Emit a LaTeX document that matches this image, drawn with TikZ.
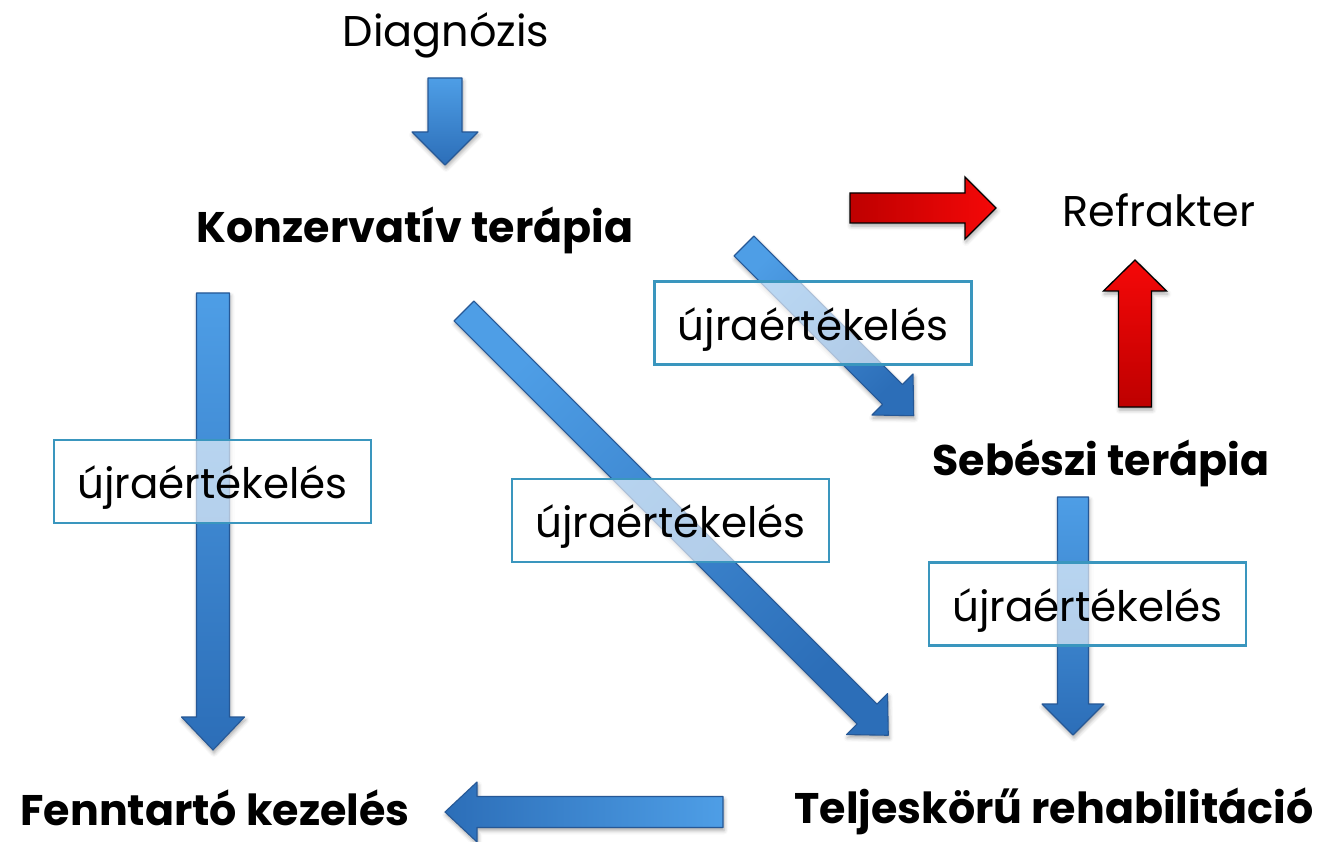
\documentclass[tikz,border=0pt]{standalone}
\usepackage{fontspec}
\setmainfont{Poppins}
\usetikzlibrary{shadows.blur}
\definecolor{arrowlight}{RGB}{78,158,230}
\definecolor{arrowdark}{RGB}{44,110,184}
\definecolor{arrowedge}{RGB}{38,88,150}
\definecolor{redlight}{RGB}{245,8,8}
\definecolor{reddark}{RGB}{190,0,0}
\definecolor{boxedge}{RGB}{58,150,190}
\newcommand\blkarrow[7]{%
  \begin{scope}[shift={(#2)},rotate=#3]
    \path[#1] (0,-#5/2) -- ({#4-#7},-#5/2) -- ({#4-#7},-#6/2) -- (#4,0)
      -- ({#4-#7},#6/2) -- ({#4-#7},#5/2) -- (0,#5/2) -- cycle;
  \end{scope}}
\tikzset{
  bluearrow/.style={draw=arrowedge, line width=1.1pt, line join=round,
    top color=arrowlight, bottom color=arrowdark,
    blur shadow={shadow xshift=1pt, shadow yshift=-3pt, shadow blur radius=4pt, shadow opacity=35}},
  redarrow/.style={draw=black, line width=1.3pt, line join=miter,
    top color=redlight, bottom color=reddark,
    blur shadow={shadow xshift=1pt, shadow yshift=-3pt, shadow blur radius=4pt, shadow opacity=35}},
  evalbox/.style={draw=boxedge, line width=2.5pt, fill=white, fill opacity=0.62,
    text opacity=1, minimum width=317pt, minimum height=83pt, inner sep=0pt,
    text height=34pt, text depth=0pt,
    font=\fontsize{42}{48}\selectfont},
  reglabel/.style={anchor=base, inner sep=0pt, font=\fontsize{43}{49}\selectfont},
  boldlabel/.style={anchor=base, inner sep=0pt, font=\fontsize{42.8}{49}\selectfont\bfseries},
}
\begin{document}
\begin{tikzpicture}[x=1pt,y=-1pt]
\useasboundingbox (0,0) rectangle (1317,842);
% arrow anchor points
\coordinate (a1) at (445,78);
\coordinate (a2) at (213,293);
\coordinate (a3) at (1073,497);
\coordinate (a4) at (723,812);
\coordinate (a5) at (850,208);
\coordinate (a6) at (1135,407);
\coordinate (a7) at (464,311);
\coordinate (a8) at (744,246);
% blue arrows
\blkarrow{bluearrow}{a1}{-90}{87}{34}{66}{33}
\blkarrow{bluearrow}{a2}{-90}{457}{33}{63}{33}
\blkarrow{bluearrow}{a3}{-90}{238}{31}{62}{31}
\blkarrow{bluearrow,shading angle=-90}{a4}{180}{278}{31}{60}{32}
\blkarrow{bluearrow,shading angle=45}{a7}{-45}{600}{28}{58}{30}
\blkarrow{bluearrow,shading angle=45}{a8}{-45}{240}{28}{58}{30}
% red arrows
\blkarrow{redarrow,shading angle=-90}{a5}{0}{146}{30}{62}{31}
\blkarrow{redarrow,shading angle=0}{a6}{90}{147}{33}{63}{31}
% boxes
\node[evalbox] (box1) at (212.5,481.5) {újraértékelés};
\node[evalbox] (box2) at (670.5,520.5) {újraértékelés};
\node[evalbox] (box3) at (813,323) {újraértékelés};
\node[evalbox] (box4) at (1087.5,604) {újraértékelés};
% labels
\node[reglabel] (diag) at (446,47) {Diagnózis};
\node[boldlabel] (konz) at (415,243) {Konzervatív terápia};
\node[reglabel] (refr) at (1159,227) {Refrakter};
\node[boldlabel] (seb) at (1101,475) {Sebészi terápia};
\node[boldlabel] (telj) at (1054,823) {Teljeskörű rehabilitáció};
\node[boldlabel] (fennt) at (215,825) {Fenntartó kezelés};
\end{tikzpicture}
\end{document}
